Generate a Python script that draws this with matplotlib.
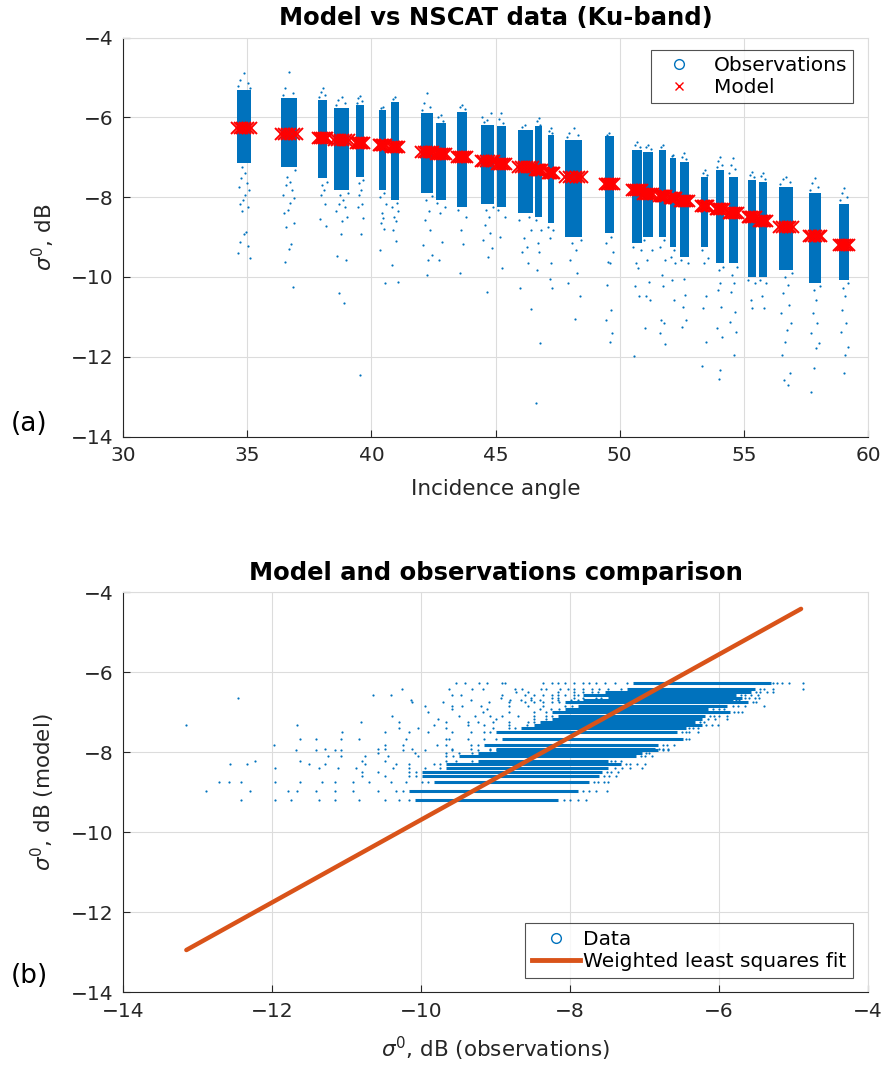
import matplotlib
matplotlib.use("Agg")
import matplotlib.pyplot as plt
from matplotlib.lines import Line2D

# angle range of each NSCAT beam cluster (deg)
angle_lo = [34.57, 36.36, 37.87, 38.50, 39.40, 40.30, 40.80, 42.00, 42.60, 43.46,
            44.40, 45.05, 45.90, 46.60, 47.10, 47.80, 49.40, 50.50, 50.95, 51.60,
            52.03, 52.44, 53.28, 53.87, 54.38, 55.15, 55.61, 56.41, 57.62, 58.84]
angle_hi = [35.17, 36.99, 38.23, 39.10, 39.70, 40.60, 41.10, 42.50, 43.00, 43.85,
            44.95, 45.40, 46.50, 46.86, 47.35, 48.50, 49.75, 50.90, 51.35, 51.85,
            52.26, 52.77, 53.57, 54.18, 54.75, 55.47, 55.92, 56.99, 58.10, 59.23]
# model sigma0 for each cluster (dB)
model = [-6.28, -6.42, -6.51, -6.57, -6.64, -6.70, -6.75, -6.86, -6.93, -7.00,
         -7.10, -7.18, -7.24, -7.32, -7.40, -7.49, -7.67, -7.83, -7.93, -7.96,
         -8.03, -8.09, -8.22, -8.31, -8.39, -8.51, -8.59, -8.74, -8.97, -9.20]
# dense part of the observations (dB)
core_top = [-5.31, -5.52, -5.57, -5.77, -5.69, -5.82, -5.61, -5.90, -6.15, -5.86,
            -6.19, -6.23, -6.32, -6.23, -6.44, -6.57, -6.48, -6.82, -6.86, -6.82,
            -7.03, -7.11, -7.49, -7.32, -7.49, -7.57, -7.61, -7.74, -7.90, -8.16]
core_bot = [-7.15, -7.24, -7.53, -7.82, -7.49, -7.82, -8.07, -7.90, -8.07, -8.24,
            -8.16, -8.24, -8.41, -8.49, -8.66, -8.99, -8.91, -9.16, -8.99, -8.99,
            -9.24, -9.49, -9.24, -9.66, -9.66, -9.99, -9.99, -9.83, -10.16, -10.08]
# sparse observations above the dense part
head = [
    [-4.88, -5.06, -5.15, -5.22, -5.27],
    [-4.87, -5.27, -5.40, -5.45],
    [-5.27, -5.36, -5.45, -5.50],
    [-5.48, -5.57, -5.65, -5.70],
    [-5.47, -5.52, -5.60, -5.65],
    [-5.73, -5.77],
    [-5.50, -5.55],
    [-5.40, -5.65, -5.75, -5.82],
    [-5.94, -6.00, -6.08],
    [-5.69, -5.75, -5.80],
    [-6.07, -6.12, -5.90, -6.00],
    [-5.90, -6.05, -6.15],
    [-6.20, -6.25],
    [-6.01, -6.10, -6.18],
    [-6.28, -6.35, -6.40],
    [-6.28, -6.40, -6.45, -6.50],
    [-6.40, -6.44],
    [-6.61, -6.70, -6.75],
    [-6.69, -6.75, -6.80],
    [-6.69, -6.75],
    [-6.94, -6.98],
    [-6.90, -7.00, -7.05],
    [-7.32, -7.40, -7.45],
    [-6.99, -7.10, -7.20, -7.25],
    [-7.03, -7.20, -7.30, -7.40],
    [-7.36, -7.45, -7.50],
    [-7.39, -7.48, -7.55],
    [-7.49, -7.55, -7.62, -7.68],
    [-7.51, -7.65, -7.75, -7.82],
    [-7.78, -7.90, -8.00, -8.08],
]
# sparse observations below the dense part (the low tail)
tail = [
    [-7.24, -7.40, -7.53, -7.65, -7.74, -7.82, -7.95, -8.07, -8.16, -8.24, -8.36,
     -8.87, -8.92, -9.12, -9.22, -9.41, -9.53],
    [-7.32, -7.49, -7.61, -7.70, -7.82, -7.95, -8.03, -8.14, -8.32, -8.39, -8.64,
     -8.74, -9.17, -9.31, -9.62, -10.26],
    [-7.62, -7.70, -7.82, -7.95, -8.16, -8.56, -8.72],
    [-7.90, -7.95, -8.07, -8.16, -8.24, -8.36, -8.49, -8.61, -8.92, -9.47, -9.58,
     -10.41, -10.65],
    [-7.58, -7.65, -7.82, -7.95, -8.16, -8.24, -8.53, -8.93, -12.46],
    [-7.90, -7.99, -8.16, -8.41, -8.53, -8.66, -8.81, -9.33, -10.14],
    [-8.15, -8.24, -8.36, -8.49, -8.61, -8.82, -9.09, -9.70, -10.12],
    [-7.98, -8.07, -8.36, -8.57, -8.82, -9.20, -9.45, -9.58, -9.95],
    [-8.15, -8.25, -8.41, -9.12, -9.58],
    [-8.32, -8.49, -8.82, -9.17, -9.91],
    [-8.24, -8.32, -8.49, -8.70, -8.91, -9.07, -9.28, -9.49, -10.39],
    [-8.32, -8.49, -8.99, -9.77],
    [-8.49, -8.57, -8.82, -9.03, -9.24, -9.37, -9.66, -10.29, -10.81],
    [-8.58, -8.82, -9.16, -9.37, -9.83, -11.66, -13.15],
    [-8.74, -8.82, -9.03, -9.66, -10.04, -10.29],
    [-9.07, -9.16, -9.33, -9.58, -9.91, -10.16, -10.49, -11.06],
    [-9.00, -9.16, -9.37, -9.62, -9.66, -10.20, -10.83, -11.08, -11.41, -11.62],
    [-9.24, -9.33, -9.66, -9.78, -10.24, -10.49, -11.98],
    [-9.08, -9.33, -9.58, -10.12, -10.49, -10.58, -11.29],
    [-9.08, -9.24, -9.58, -9.95, -10.24, -11.08, -11.16, -11.41, -11.68],
    [-9.32, -9.49, -9.66, -10.08, -10.58],
    [-9.57, -9.66, -10.04, -10.45, -10.75, -11.08, -11.25],
    [-9.32, -9.53, -9.66, -10.49, -10.79, -11.62, -12.23],
    [-9.74, -9.83, -10.16, -10.33, -10.75, -11.29, -11.50, -12.33, -12.57],
    [-9.74, -9.95, -10.16, -10.37, -10.87, -11.12, -11.37, -11.96],
    [-10.07, -10.16, -10.58, -10.79],
    [-10.07, -10.16, -10.49, -10.79],
    [-9.91, -9.99, -10.20, -10.41, -10.70, -10.91, -11.16, -11.33, -11.62, -11.96,
     -12.42, -12.58, -12.71],
    [-10.24, -10.33, -10.58, -10.91, -11.16, -11.41, -11.66, -11.79, -12.29, -12.88],
    [-10.16, -10.29, -10.49, -10.83, -11.16, -11.37, -11.75, -11.96, -12.42],
]
# weighted least squares fit end points
fit_x = [-13.15, -4.90]
fit_y = [-12.95, -4.42]

tick_labels = ['\u221214', '\u221212', '\u221210', '\u22128', '\u22126', '\u22124']

BLUE = "#0072BD"
ORANGE = "#D95319"
spread = [0.5, 0.25, 0.75, 0.1, 0.9, 0.4, 0.6, 0.3, 0.7, 0.15, 0.85, 0.55, 0.45,
          0.2, 0.8, 0.35, 0.65]
model_pos = [0.0, 0.2, 0.4, 0.6, 0.8, 1.0]

plt.rcParams['font.family'] = ['DejaVu Sans']
plt.rcParams['mathtext.fontset'] = 'dejavusans'


def style_axes(ax):
    ax.grid(True, color='#dcdcdc', linewidth=0.8)
    ax.set_axisbelow(True)
    for side in ['top', 'right']:
        ax.spines[side].set_color('#dcdcdc')
    for side in ['left', 'bottom']:
        ax.spines[side].set_color('#262626')
    ax.tick_params(direction='in', length=5, labelsize=14.5, colors='#262626', pad=7)


def main():
    fig = plt.figure(figsize=(8.87, 10.72), dpi=100)
    ax1 = fig.add_axes([0.1387, 0.5928, 0.8400, 0.3722])
    ax2 = fig.add_axes([0.1387, 0.0746, 0.8400, 0.3731])

    # panel (a)
    for i in range(len(model)):
        lo, hi = angle_lo[i], angle_hi[i]
        w = hi - lo
        ax1.bar((lo + hi) / 2, core_top[i] - core_bot[i], bottom=core_bot[i],
                width=w, color=BLUE, linewidth=0, zorder=2)
        pts = head[i] + tail[i]
        xs = [lo + spread[k % len(spread)] * w for k in range(len(pts))]
        ax1.scatter(xs, pts, s=2.5, color=BLUE, linewidths=0, zorder=2)
        mx = [lo + f * w for f in model_pos]
        ax1.plot(mx, [model[i]] * len(mx), 'x', color='red', markersize=8,
                 markeredgewidth=1.4, zorder=3)
    ax1.set_xlim(30, 60)
    ax1.set_ylim(-14, -4)
    ax1.set_xticks(range(30, 61, 5))
    ax1.set_yticks(range(-14, -3, 2))
    ax1.set_yticklabels(tick_labels)
    style_axes(ax1)
    ax1.set_xlabel('Incidence angle', fontsize=15.5, color='#262626', labelpad=10)
    ax1.set_ylabel(r'$\sigma^0$, dB', fontsize=15.5, color='#262626', labelpad=10)
    ax1.set_title('Model vs NSCAT data (Ku-band)', fontsize=17.5, fontweight='bold',
                  pad=9)
    h1 = [Line2D([], [], marker='o', color=BLUE, markerfacecolor='none', linestyle='none',
                 markersize=7, label='Observations'),
          Line2D([], [], marker='x', color='red', linestyle='none', markersize=6,
                 label='Model')]
    leg1 = ax1.legend(handles=h1, loc='upper right', bbox_to_anchor=(0.98, 0.969),
                      borderaxespad=0, fontsize=14.5, fancybox=False,
                      edgecolor='#262626', handletextpad=0.6, borderpad=0.3,
                      labelspacing=0.15, handlelength=2.2)
    leg1.get_frame().set_linewidth(0.8)

    # panel (b)
    for i in range(len(model)):
        ax2.hlines(model[i], core_bot[i], core_top[i], color=BLUE, linewidth=2.2,
                   zorder=2)
        pts = head[i] + tail[i]
        ax2.scatter(pts, [model[i]] * len(pts), s=2.5, color=BLUE, linewidths=0,
                    zorder=2)
    ax2.plot(fit_x, fit_y, color=ORANGE, linewidth=3.2, solid_capstyle='round',
             zorder=3)
    ax2.set_xlim(-14, -4)
    ax2.set_ylim(-14, -4)
    ax2.set_xticks(range(-14, -3, 2))
    ax2.set_yticks(range(-14, -3, 2))
    ax2.set_xticklabels(tick_labels)
    ax2.set_yticklabels(tick_labels)
    style_axes(ax2)
    ax2.set_xlabel(r'$\sigma^0$, dB (observations)', fontsize=15.5, color='#262626',
                   labelpad=10)
    ax2.set_ylabel(r'$\sigma^0$, dB (model)', fontsize=15.5, color='#262626',
                   labelpad=10)
    ax2.set_title('Model and observations comparison', fontsize=17.5,
                  fontweight='bold', pad=9)
    h2 = [Line2D([], [], marker='o', color=BLUE, markerfacecolor='none', linestyle='none',
                 markersize=7, label='Data'),
          Line2D([], [], color=ORANGE, linewidth=3.5, label='Weighted least squares fit')]
    leg2 = ax2.legend(handles=h2, loc='lower right', bbox_to_anchor=(0.98, 0.035),
                      borderaxespad=0, fontsize=14.5, fancybox=False,
                      edgecolor='#262626', handletextpad=0.15, borderpad=0.35,
                      labelspacing=0.15, handlelength=2.4)
    leg2.get_frame().set_linewidth(0.8)

    fig.text(0.012, 0.598, '(a)', fontsize=19)
    fig.text(0.012, 0.083, '(b)', fontsize=19)

    fig.savefig('out.png', dpi=100)


if __name__ == "__main__":
    main()
